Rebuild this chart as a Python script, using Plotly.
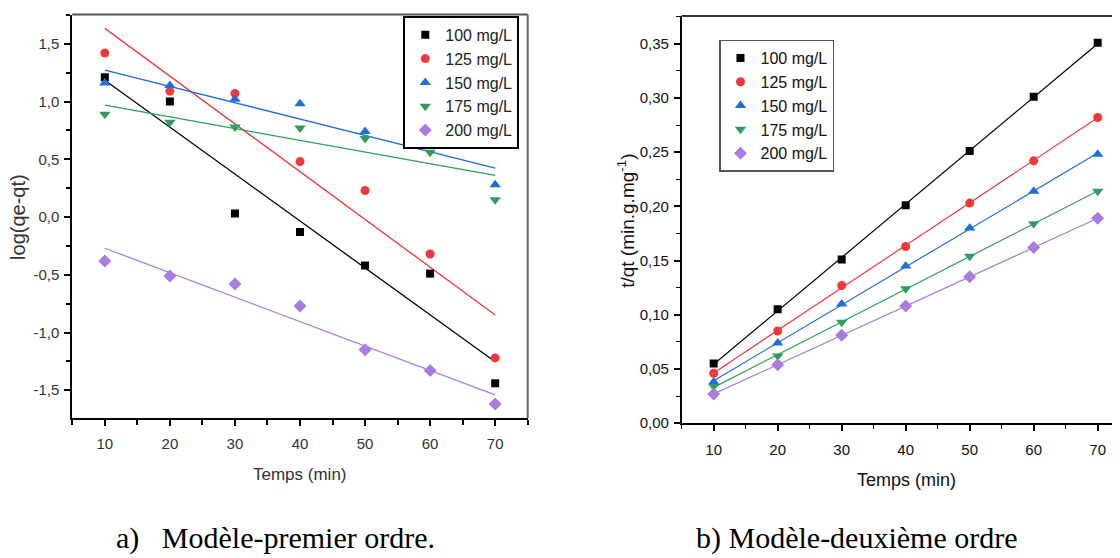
import numpy as np
import plotly.graph_objects as go

# ---------------- data ----------------
time_min = [10, 20, 30, 40, 50, 60, 70]
series_labels = ["100 mg/L", "125 mg/L", "150 mg/L", "175 mg/L", "200 mg/L"]

# a) pseudo-first order : log(qe - qt)
log_qe_qt_100 = [1.21, 1.00, 0.03, -0.13, -0.42, -0.49, -1.44]
log_qe_qt_125 = [1.42, 1.09, 1.07, 0.48, 0.23, -0.32, -1.22]
log_qe_qt_150 = [1.16, 1.14, 1.02, 0.98, 0.74, 0.62, 0.28]
log_qe_qt_175 = [0.89, 0.82, 0.78, 0.77, 0.68, 0.56, 0.15]
log_qe_qt_200 = [-0.38, -0.51, -0.58, -0.77, -1.15, -1.33, -1.62]

# b) pseudo-second order : t/qt
t_qt_100 = [0.055, 0.105, 0.151, 0.201, 0.251, 0.301, 0.351]
t_qt_125 = [0.046, 0.085, 0.127, 0.163, 0.203, 0.242, 0.282]
t_qt_150 = [0.038, 0.074, 0.110, 0.145, 0.180, 0.214, 0.248]
t_qt_175 = [0.034, 0.062, 0.093, 0.124, 0.154, 0.184, 0.214]
t_qt_200 = [0.027, 0.054, 0.081, 0.108, 0.135, 0.162, 0.189]

# tick labels (comma decimal, hyphen minus as in the reference)
y1_tickvals = [-1.5, -1.0, -0.5, 0.0, 0.5, 1.0, 1.5]
y1_ticktext = ["-1,5", "-1,0", "-0,5", "0,0", "0,5", "1,0", "1,5"]
y2_tickvals = [0.00, 0.05, 0.10, 0.15, 0.20, 0.25, 0.30, 0.35]
y2_ticktext = ["0,00", "0,05", "0,10", "0,15", "0,20", "0,25", "0,30", "0,35"]
x_tickvals = [10, 20, 30, 40, 50, 60, 70]
x_ticktext = ["10", "20", "30", "40", "50", "60", "70"]

first_order = [log_qe_qt_100, log_qe_qt_125, log_qe_qt_150, log_qe_qt_175, log_qe_qt_200]
second_order = [t_qt_100, t_qt_125, t_qt_150, t_qt_175, t_qt_200]

# ---------------- styles ----------------
colors = ["#000000", "#f0393c", "#1f6fd8", "#2f9e5c", "#a97ddf"]
symbols = ["square", "circle", "triangle-up", "triangle-down", "diamond"]
sizes = [8, 9, 10, 10, 10]

# the page body has an 8px margin: the figure occupies window pixels 8..1120 / 8..558
OFF = 8
W, H = 1120 - OFF, 558 - OFF
def px(x):
    return (x - OFF) / W
def py(y):
    return 1 - (y - OFF) / H

SANS = "Liberation Sans, Arial, sans-serif"
SERIF = "Liberation Serif, Times New Roman, serif"

fig = go.Figure()
t_arr = np.array(time_min, dtype=float)

for i, lab in enumerate(series_labels):
    y = np.array(first_order[i], dtype=float)
    k, b = np.polyfit(t_arr, y, 1)
    fig.add_trace(go.Scatter(x=time_min, y=list(k * t_arr + b), mode="lines",
                             line=dict(color=colors[i], width=1.3),
                             showlegend=False, xaxis="x", yaxis="y", hoverinfo="skip"))
for i, lab in enumerate(series_labels):
    fig.add_trace(go.Scatter(x=time_min, y=first_order[i], mode="markers", name=lab,
                             marker=dict(symbol=symbols[i], size=sizes[i], color=colors[i],
                                         line=dict(width=0)),
                             legend="legend", xaxis="x", yaxis="y"))

for i, lab in enumerate(series_labels):
    y = np.array(second_order[i], dtype=float)
    k, b = np.polyfit(t_arr, y, 1)
    fig.add_trace(go.Scatter(x=time_min, y=list(k * t_arr + b), mode="lines",
                             line=dict(color=colors[i], width=1.2),
                             showlegend=False, xaxis="x2", yaxis="y2", hoverinfo="skip"))
for i, lab in enumerate(series_labels):
    fig.add_trace(go.Scatter(x=time_min, y=second_order[i], mode="markers", name=lab,
                             marker=dict(symbol=symbols[i], size=sizes[i], color=colors[i],
                                         line=dict(width=0)),
                             legend="legend2", xaxis="x2", yaxis="y2"))

left_tick_font = dict(family=SANS, size=15, color="#333333")
right_tick_font = dict(family=SANS, size=15, color="#111111")

common_axis = dict(showgrid=False, zeroline=False, ticks="outside", ticklen=6, tickwidth=1.5,
                   tickcolor="black", showline=True, linecolor="black")

fig.update_layout(
    width=W, height=H,
    margin=dict(l=0, r=0, t=0, b=0),
    paper_bgcolor="white", plot_bgcolor="white",
    showlegend=True,
    xaxis=dict(**common_axis, domain=[px(72.3), px(527.7)], range=[5, 75],
               tickvals=x_tickvals, ticktext=x_ticktext, linewidth=2,
               tickfont=left_tick_font, anchor="y", ticklabelstandoff=5,
               minor=dict(dtick=5, tick0=5, ticks="outside", ticklen=5, tickwidth=1.5, tickcolor="black")),
    yaxis=dict(**common_axis, domain=[py(424), py(14.7)], range=[-1.74, 1.753],
               tickvals=y1_tickvals, ticktext=y1_ticktext, linewidth=2,
               tickfont=left_tick_font, anchor="x", ticklabelstandoff=2,
               minor=dict(dtick=0.25, tick0=0, ticks="outside", ticklen=4, tickwidth=1.5, tickcolor="black")),
    xaxis2=dict(**common_axis, domain=[px(681.7), 1.0], range=[5, 5 + (1120 - 681.7) / 6.4],
                tickvals=x_tickvals, ticktext=x_ticktext, linewidth=1.6,
                tickfont=right_tick_font, anchor="y2", ticklabelstandoff=6,
                minor=dict(dtick=5, tick0=5, ticks="outside", ticklen=4, tickwidth=1.3, tickcolor="black")),
    yaxis2=dict(**common_axis, domain=[py(429.3), py(16)], range=[0, 0.3757],
                tickvals=y2_tickvals, ticktext=y2_ticktext, linewidth=1.6,
                tickfont=right_tick_font, anchor="x2", ticklabelstandoff=2,
                minor=dict(dtick=0.025, tick0=0, ticks="outside", ticklen=4, tickwidth=1.3, tickcolor="black")),
    legend=dict(x=px(403.3), y=py(16), xanchor="left", yanchor="top",
                bordercolor="black", borderwidth=2, bgcolor="white",
                font=dict(family=SANS, size=16, color="#222222"), tracegroupgap=0),
    legend2=dict(x=px(719), y=py(40), xanchor="left", yanchor="top",
                 bordercolor="#555555", borderwidth=1.5, bgcolor="white",
                 font=dict(family=SANS, size=16, color="#111111"), tracegroupgap=0),
)

# frame lines (top / right) of plot a, top of plot b
fig.add_shape(type="line", xref="x domain", yref="y domain", x0=0, x1=1, y0=1, y1=1,
              line=dict(color="#555555", width=2))
fig.add_shape(type="line", xref="x domain", yref="y domain", x0=1, x1=1, y0=0, y1=1,
              line=dict(color="#666666", width=2))
fig.add_shape(type="line", xref="x2 domain", yref="y2 domain", x0=0, x1=1, y0=1, y1=1,
              line=dict(color="#333333", width=2))

ann = [
    dict(text="log(qe-qt)", x=px(18), y=py(220), textangle=-90,
         font=dict(family=SANS, size=20, color="#333333")),
    dict(text="Temps (min)", x=px(300), y=py(481), font=dict(family=SANS, size=17, color="#333333")),
    dict(text="t/qt (min.g.mg<sup>-1</sup>)", x=px(626), y=py(224), textangle=-90,
         font=dict(family=SANS, size=19, color="#111111")),
    dict(text="Temps (min)", x=px(906), y=py(487), font=dict(family=SANS, size=18, color="#111111")),
]
for a in ann:
    fig.add_annotation(xref="paper", yref="paper", showarrow=False, xanchor="center",
                       yanchor="middle", **a)

fig.add_annotation(text="a)\u00a0\u00a0\u00a0Modèle-premier ordre.", xref="paper", yref="paper",
                   x=px(114), y=py(546), xanchor="left", yanchor="middle", showarrow=False,
                   font=dict(family=SERIF, size=30, color="black"))
fig.add_annotation(text="b) Modèle-deuxième ordre", xref="paper", yref="paper",
                   x=px(694), y=py(546), xanchor="left", yanchor="middle", showarrow=False,
                   font=dict(family=SERIF, size=30, color="black"))

fig.write_html("out.html")
